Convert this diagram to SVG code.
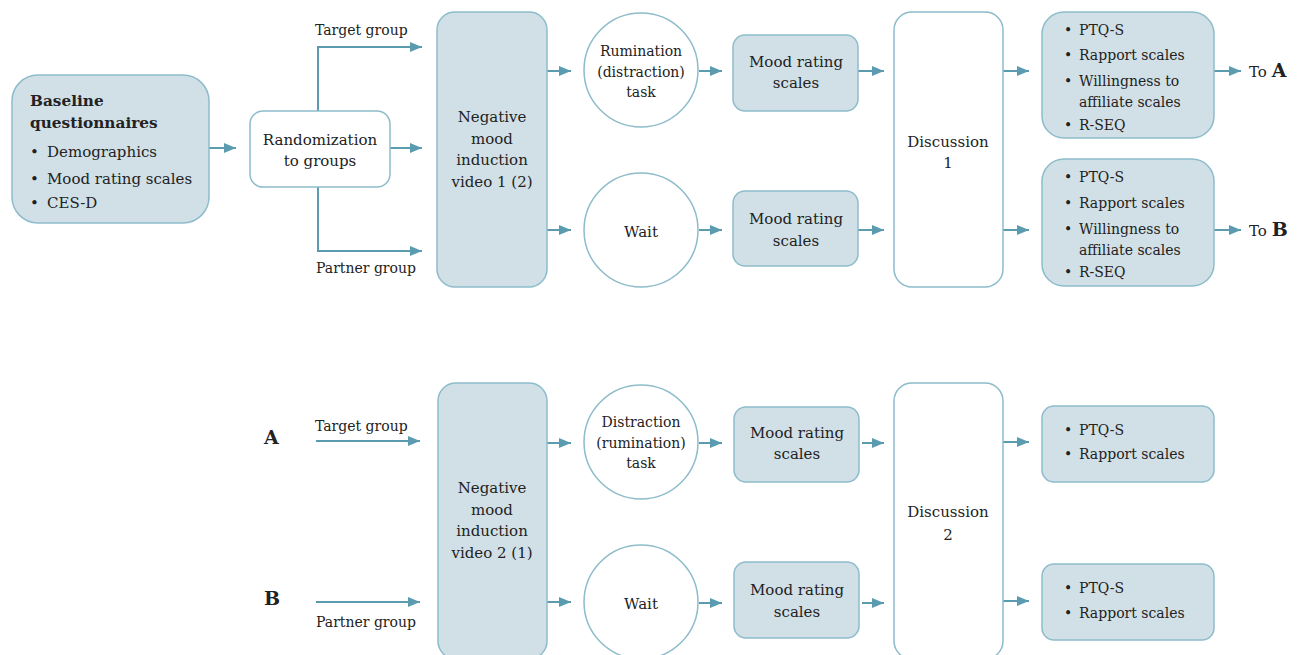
<svg xmlns="http://www.w3.org/2000/svg" width="1302" height="655" viewBox="0 0 1302 655">
<defs>
<style>
.f{fill:#d1e0e7;stroke:#8dbccb;stroke-width:1.5}
.w{fill:#ffffff;stroke:#8dbccb;stroke-width:1.5}
text{font-family:"DejaVu Serif","Liberation Serif",serif;font-size:15px;fill:#222}
.c{text-anchor:middle}
.s{font-size:14px}
.b{font-weight:bold}
.h{font-size:15.3px}
.big{font-size:19px;font-weight:bold}
.cn path{fill:none;stroke:#5b9bb0;stroke-width:2}
</style>
<marker id="ah" markerUnits="userSpaceOnUse" markerWidth="12" markerHeight="12" viewBox="0 0 12 12" refX="12" refY="6" orient="auto">
<path d="M0,1 L12,6 L0,11 Z" fill="#5b9bb0"/>
</marker>
</defs>

<g id="connectors" class="cn">
<path d="M209,148 H236" marker-end="url(#ah)"/>
<path d="M318,111 V47 H422" marker-end="url(#ah)"/>
<path d="M390,148 H422" marker-end="url(#ah)"/>
<path d="M318,187 V251 H422" marker-end="url(#ah)"/>
<path d="M547,71 H571" marker-end="url(#ah)"/>
<path d="M547,230 H571" marker-end="url(#ah)"/>
<path d="M699,71 H722" marker-end="url(#ah)"/>
<path d="M699,230 H722" marker-end="url(#ah)"/>
<path d="M858,71 H884" marker-end="url(#ah)"/>
<path d="M858,230 H884" marker-end="url(#ah)"/>
<path d="M1003,71 H1029" marker-end="url(#ah)"/>
<path d="M1003,230 H1029" marker-end="url(#ah)"/>
<path d="M1214,71 H1241" marker-end="url(#ah)"/>
<path d="M1214,230 H1241" marker-end="url(#ah)"/>
<path d="M316,441 H420" marker-end="url(#ah)"/>
<path d="M316,602 H420" marker-end="url(#ah)"/>
<path d="M547,443 H571" marker-end="url(#ah)"/>
<path d="M547,602 H571" marker-end="url(#ah)"/>
<path d="M699,443 H722" marker-end="url(#ah)"/>
<path d="M699,603 H722" marker-end="url(#ah)"/>
<path d="M862,443 H884" marker-end="url(#ah)"/>
<path d="M862,603 H884" marker-end="url(#ah)"/>
<path d="M1003,442 H1029" marker-end="url(#ah)"/>
<path d="M1003,601 H1029" marker-end="url(#ah)"/>
</g>

<g id="labels">
<text x="315" y="35" class="s">Target group</text>
<text x="316" y="273" class="s">Partner group</text>
<text x="1249" y="77">To <tspan class="big">A</tspan></text>
<text x="1249" y="236">To <tspan class="big">B</tspan></text>
<text x="264" y="444" class="big">A</text>
<text x="264" y="605" class="big">B</text>
<text x="315" y="431" class="s">Target group</text>
<text x="316" y="627" class="s">Partner group</text>
</g>

<g id="baseline">
<rect class="f" x="12" y="75" width="197" height="148" rx="26"/>
<text x="30" y="106" class="b h">Baseline</text>
<text x="30" y="128" class="b h">questionnaires</text>
<text x="30" y="157">•</text><text x="47" y="157">Demographics</text>
<text x="30" y="184">•</text><text x="47" y="184">Mood rating scales</text>
<text x="30" y="208">•</text><text x="47" y="208">CES-D</text>
</g>

<g id="randomization">
<rect class="w" x="250" y="111" width="140" height="76" rx="13"/>
<text x="320" y="145" class="c">Randomization</text>
<text x="320" y="166" class="c">to groups</text>
</g>

<g id="video1">
<rect class="f" x="437" y="12" width="110" height="275" rx="18"/>
<text x="492" y="122" class="c">Negative</text>
<text x="492" y="143.5" class="c">mood</text>
<text x="492" y="165" class="c">induction</text>
<text x="492" y="186.5" class="c">video 1 (2)</text>
</g>

<g id="rumination1">
<circle class="w" cx="641" cy="70" r="57"/>
<text x="641" y="56" class="c s">Rumination</text>
<text x="641" y="77" class="c s">(distraction)</text>
<text x="641" y="97" class="c s">task</text>
</g>

<g id="wait1">
<circle class="w" cx="641" cy="230" r="57"/>
<text x="641" y="237" class="c">Wait</text>
</g>

<g id="mood1">
<rect class="f" x="733" y="35" width="125" height="76" rx="12"/>
<text x="796" y="67" class="c">Mood rating</text>
<text x="796" y="88" class="c">scales</text>
</g>

<g id="mood2">
<rect class="f" x="733" y="191" width="125" height="75" rx="12"/>
<text x="796" y="224" class="c">Mood rating</text>
<text x="796" y="246" class="c">scales</text>
</g>

<g id="discussion1">
<rect class="w" x="894" y="12" width="109" height="275" rx="18"/>
<text x="948" y="147" class="c">Discussion</text>
<text x="948" y="168" class="c">1</text>
</g>

<g id="outcome1">
<rect class="f" x="1042" y="12" width="172" height="126" rx="22"/>
<text x="1064" y="35" class="s">•</text><text x="1079" y="35" class="s">PTQ-S</text>
<text x="1064" y="60" class="s">•</text><text x="1079" y="60" class="s">Rapport scales</text>
<text x="1064" y="86" class="s">•</text><text x="1079" y="86" class="s">Willingness to</text>
<text x="1079" y="107" class="s">affiliate scales</text>
<text x="1064" y="130" class="s">•</text><text x="1079" y="130" class="s">R-SEQ</text>
</g>

<g id="outcome2">
<rect class="f" x="1042" y="159" width="172" height="127" rx="22"/>
<text x="1064" y="182" class="s">•</text><text x="1079" y="182" class="s">PTQ-S</text>
<text x="1064" y="208" class="s">•</text><text x="1079" y="208" class="s">Rapport scales</text>
<text x="1064" y="234" class="s">•</text><text x="1079" y="234" class="s">Willingness to</text>
<text x="1079" y="255" class="s">affiliate scales</text>
<text x="1064" y="277" class="s">•</text><text x="1079" y="277" class="s">R-SEQ</text>
</g>

<g id="video2">
<rect class="f" x="438" y="383" width="109" height="276" rx="18"/>
<text x="492" y="493" class="c">Negative</text>
<text x="492" y="514.5" class="c">mood</text>
<text x="492" y="536" class="c">induction</text>
<text x="492" y="557.5" class="c">video 2 (1)</text>
</g>

<g id="distraction2">
<circle class="w" cx="641" cy="442" r="57"/>
<text x="641" y="427" class="c s">Distraction</text>
<text x="641" y="448" class="c s">(rumination)</text>
<text x="641" y="468" class="c s">task</text>
</g>

<g id="wait2">
<circle class="w" cx="641" cy="602" r="57"/>
<text x="641" y="609" class="c">Wait</text>
</g>

<g id="mood3">
<rect class="f" x="734" y="407" width="125" height="75" rx="12"/>
<text x="797" y="438" class="c">Mood rating</text>
<text x="797" y="459" class="c">scales</text>
</g>

<g id="mood4">
<rect class="f" x="734" y="562" width="125" height="76" rx="12"/>
<text x="797" y="595" class="c">Mood rating</text>
<text x="797" y="617" class="c">scales</text>
</g>

<g id="discussion2">
<rect class="w" x="894" y="383" width="109" height="276" rx="18"/>
<text x="948" y="517" class="c">Discussion</text>
<text x="948" y="540" class="c">2</text>
</g>

<g id="outcome3">
<rect class="f" x="1042" y="406" width="172" height="76" rx="12"/>
<text x="1064" y="435" class="s">•</text><text x="1079" y="435" class="s">PTQ-S</text>
<text x="1064" y="459" class="s">•</text><text x="1079" y="459" class="s">Rapport scales</text>
</g>

<g id="outcome4">
<rect class="f" x="1042" y="564" width="172" height="76" rx="12"/>
<text x="1064" y="593" class="s">•</text><text x="1079" y="593" class="s">PTQ-S</text>
<text x="1064" y="618" class="s">•</text><text x="1079" y="618" class="s">Rapport scales</text>
</g>
</svg>
